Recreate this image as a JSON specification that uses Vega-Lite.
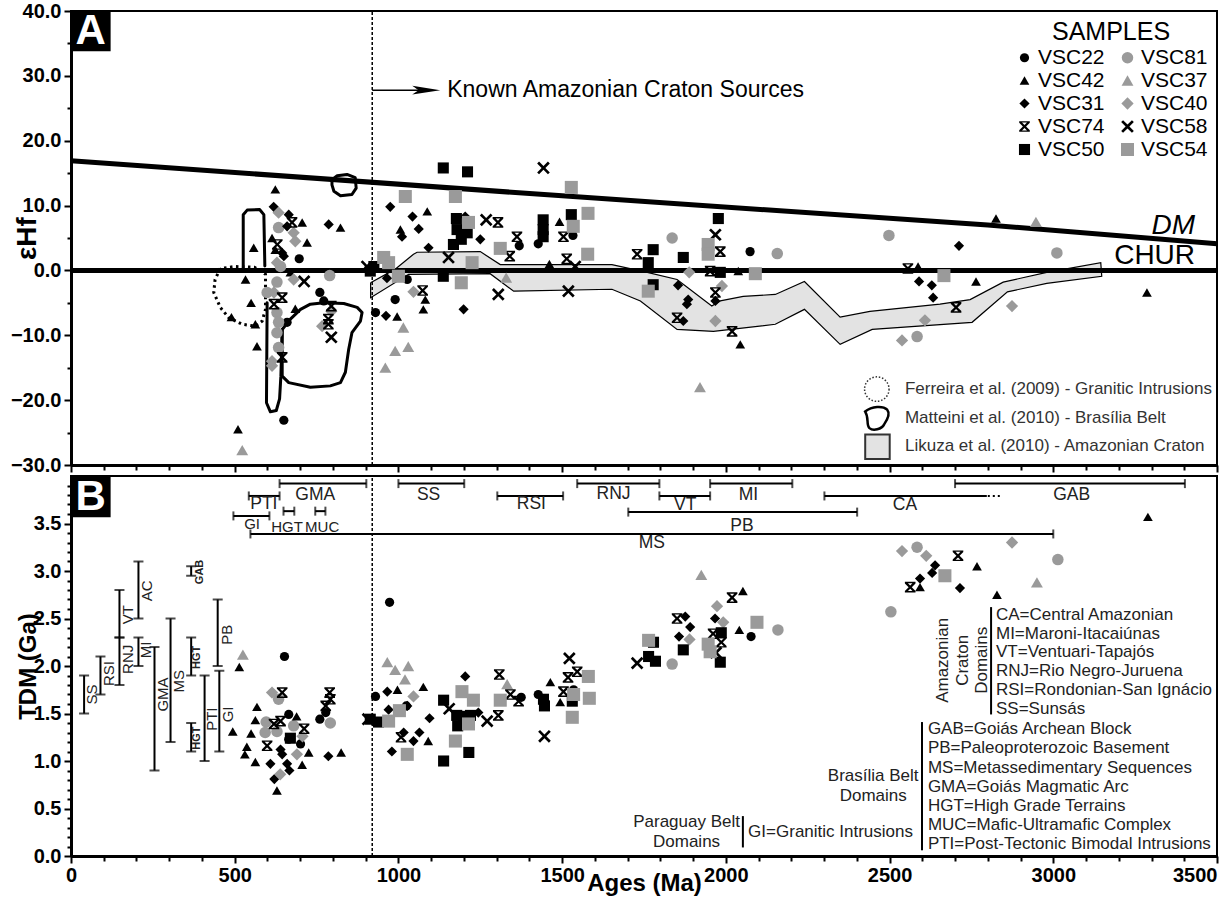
{
"$schema":"https://vega.github.io/schema/vega-lite/v6.json",
"padding":{"left":9,"top":0,"right":5,"bottom":0},
"bounds":"flush",
"config":{
 "font":"Liberation Sans",
 "view":{"stroke":"black","strokeWidth":2},
 "axis":{"domainColor":"black","domainWidth":3,"tickColor":"black","tickWidth":2,"labelColor":"black","labelFont":"Liberation Sans","labelFontWeight":"bold","labelFontSize":20,"titleFont":"Liberation Sans","titleFontWeight":"bold","titleColor":"black","grid":false,"labelOverlap":false,"labelFlush":false}
},
"spacing":11,
"resolve":{"legend":{"fill":"independent","shape":"independent","size":"independent"}},
"datasets":{
 "hf":[
  {"s":"VSC22","x":697,"y":1.8},{"s":"VSC22","x":760,"y":-3.4},{"s":"VSC22","x":772,"y":-4.7},{"s":"VSC22","x":650,"y":-23.1},{"s":"VSC22","x":660,"y":-8.0},{"s":"VSC22","x":990,"y":-4.5},{"s":"VSC22","x":930,"y":-6.5},{"s":"VSC22","x":1027,"y":-1.4},{"s":"VSC22","x":1369,"y":3.8},{"s":"VSC22","x":1427,"y":4.1},{"s":"VSC22","x":1533,"y":5.4},{"s":"VSC22","x":2074,"y":2.9},
  {"s":"VSC81","x":634,"y":6.6},{"s":"VSC81","x":640,"y":0.6},{"s":"VSC81","x":790,"y":-0.8},{"s":"VSC81","x":629,"y":-1.8},{"s":"VSC81","x":599,"y":-3.4},{"s":"VSC81","x":629,"y":-6.5},{"s":"VSC81","x":634,"y":-8.0},{"s":"VSC81","x":629,"y":-9.6},{"s":"VSC81","x":634,"y":-11.9},{"s":"VSC81","x":1836,"y":5.0},{"s":"VSC81","x":2157,"y":2.6},{"s":"VSC81","x":2498,"y":5.4},{"s":"VSC81","x":3011,"y":2.7},{"s":"VSC81","x":2584,"y":-10.2},
  {"s":"VSC42","x":624,"y":12.5},{"s":"VSC42","x":706,"y":7.4},{"s":"VSC42","x":721,"y":4.3},{"s":"VSC42","x":823,"y":6.6},{"s":"VSC42","x":558,"y":3.5},{"s":"VSC42","x":614,"y":5.0},{"s":"VSC42","x":624,"y":3.2},{"s":"VSC42","x":670,"y":-0.3},{"s":"VSC42","x":533,"y":-1.4},{"s":"VSC42","x":550,"y":-5.0},{"s":"VSC42","x":685,"y":-5.9},{"s":"VSC42","x":490,"y":-7.2},{"s":"VSC42","x":563,"y":-8.3},{"s":"VSC42","x":568,"y":-11.7},{"s":"VSC42","x":510,"y":-24.5},{"s":"VSC42","x":996,"y":-7.1},{"s":"VSC42","x":1006,"y":6.3},{"s":"VSC42","x":1088,"y":9.1},{"s":"VSC42","x":1082,"y":-4.5},{"s":"VSC42","x":1076,"y":-6.0},{"s":"VSC42","x":1492,"y":7.5},{"s":"VSC42","x":1461,"y":1.0},{"s":"VSC42","x":2038,"y":-0.1},{"s":"VSC42","x":2044,"y":-11.4},{"s":"VSC42","x":2825,"y":8.0},{"s":"VSC42","x":2587,"y":0.6},{"s":"VSC42","x":2764,"y":-1.7},{"s":"VSC42","x":3286,"y":-3.4},
  {"s":"VSC37","x":523,"y":-27.7},{"s":"VSC37","x":1015,"y":-8.8},{"s":"VSC37","x":990,"y":-12.4},{"s":"VSC37","x":1030,"y":-11.8},{"s":"VSC37","x":960,"y":-15.0},{"s":"VSC37","x":1329,"y":-1.1},{"s":"VSC37","x":1921,"y":-18.0},{"s":"VSC37","x":2947,"y":7.5},
  {"s":"VSC31","x":619,"y":9.8},{"s":"VSC31","x":665,"y":8.6},{"s":"VSC31","x":660,"y":6.8},{"s":"VSC31","x":645,"y":2.7},{"s":"VSC31","x":650,"y":2.2},{"s":"VSC31","x":787,"y":7.1},{"s":"VSC31","x":965,"y":-1.2},{"s":"VSC31","x":962,"y":-7.0},{"s":"VSC31","x":975,"y":9.8},{"s":"VSC31","x":1043,"y":8.3},{"s":"VSC31","x":1011,"y":5.2},{"s":"VSC31","x":1062,"y":6.4},{"s":"VSC31","x":1092,"y":3.5},{"s":"VSC31","x":1199,"y":-6.0},{"s":"VSC31","x":1250,"y":4.8},{"s":"VSC31","x":1204,"y":8.3},{"s":"VSC31","x":1854,"y":-2.3},{"s":"VSC31","x":1885,"y":-4.5},{"s":"VSC31","x":1881,"y":-5.2},{"s":"VSC31","x":1968,"y":-4.7},{"s":"VSC31","x":1870,"y":-7.8},{"s":"VSC31","x":2712,"y":3.8},{"s":"VSC31","x":2590,"y":-1.7},{"s":"VSC31","x":2629,"y":-2.3},{"s":"VSC31","x":2633,"y":-4.2},
  {"s":"VSC40","x":634,"y":8.9},{"s":"VSC40","x":680,"y":5.8},{"s":"VSC40","x":685,"y":4.5},{"s":"VSC40","x":629,"y":1.2},{"s":"VSC40","x":680,"y":-1.4},{"s":"VSC40","x":620,"y":-3.4},{"s":"VSC40","x":795,"y":-6.3},{"s":"VSC40","x":767,"y":-8.6},{"s":"VSC40","x":614,"y":-14.0},{"s":"VSC40","x":614,"y":-14.7},{"s":"VSC40","x":1046,"y":-3.3},{"s":"VSC40","x":1888,"y":-0.3},{"s":"VSC40","x":1988,"y":-2.4},{"s":"VSC40","x":1968,"y":-7.8},{"s":"VSC40","x":2874,"y":-5.5},{"s":"VSC40","x":2608,"y":-7.7},{"s":"VSC40","x":2538,"y":-10.8},
  {"s":"VSC74","x":675,"y":7.4},{"s":"VSC74","x":630,"y":4.0},{"s":"VSC74","x":645,"y":-4.2},{"s":"VSC74","x":620,"y":-5.2},{"s":"VSC74","x":795,"y":-5.5},{"s":"VSC74","x":786,"y":-7.5},{"s":"VSC74","x":786,"y":-8.3},{"s":"VSC74","x":645,"y":-13.4},{"s":"VSC74","x":1074,"y":-3.1},{"s":"VSC74","x":1304,"y":7.4},{"s":"VSC74","x":1362,"y":5.2},{"s":"VSC74","x":1340,"y":2.2},{"s":"VSC74","x":1504,"y":5.2},{"s":"VSC74","x":1514,"y":1.8},{"s":"VSC74","x":1729,"y":2.5},{"s":"VSC74","x":1983,"y":2.9},{"s":"VSC74","x":1952,"y":-0.1},{"s":"VSC74","x":1851,"y":-7.3},{"s":"VSC74","x":1968,"y":-3.4},{"s":"VSC74","x":2019,"y":-9.4},{"s":"VSC74","x":2556,"y":0.3},{"s":"VSC74","x":2703,"y":-5.7},
  {"s":"VSC58","x":712,"y":-1.7},{"s":"VSC58","x":795,"y":-10.3},{"s":"VSC58","x":904,"y":0.6},{"s":"VSC58","x":1443,"y":15.8},{"s":"VSC58","x":1268,"y":7.8},{"s":"VSC58","x":1153,"y":2.0},{"s":"VSC58","x":1305,"y":-3.7},{"s":"VSC58","x":1519,"y":-3.2},{"s":"VSC58","x":1540,"y":0.6},{"s":"VSC58","x":1968,"y":5.5},
  {"s":"VSC50","x":925,"y":0.6},{"s":"VSC50","x":914,"y":-0.1},{"s":"VSC50","x":1137,"y":15.8},{"s":"VSC50","x":1211,"y":15.2},{"s":"VSC50","x":1177,"y":8.0},{"s":"VSC50","x":1179,"y":6.3},{"s":"VSC50","x":1210,"y":5.8},{"s":"VSC50","x":1192,"y":4.8},{"s":"VSC50","x":1168,"y":4.0},{"s":"VSC50","x":1442,"y":7.8},{"s":"VSC50","x":1442,"y":6.3},{"s":"VSC50","x":1442,"y":5.2},{"s":"VSC50","x":1528,"y":8.6},{"s":"VSC50","x":1137,"y":-0.9},{"s":"VSC50","x":1778,"y":3.2},{"s":"VSC50","x":1763,"y":1.2},{"s":"VSC50","x":1870,"y":2.0},{"s":"VSC50","x":1977,"y":8.0},{"s":"VSC50","x":1778,"y":-2.2},{"s":"VSC50","x":1983,"y":-0.3},
  {"s":"VSC54","x":955,"y":2.0},{"s":"VSC54","x":970,"y":1.2},{"s":"VSC54","x":1000,"y":-0.9},{"s":"VSC54","x":1021,"y":11.4},{"s":"VSC54","x":1174,"y":11.4},{"s":"VSC54","x":1528,"y":12.8},{"s":"VSC54","x":1214,"y":7.4},{"s":"VSC54","x":1311,"y":3.4},{"s":"VSC54","x":1579,"y":8.8},{"s":"VSC54","x":1534,"y":6.8},{"s":"VSC54","x":1578,"y":2.5},{"s":"VSC54","x":1225,"y":1.2},{"s":"VSC54","x":1192,"y":-1.9},{"s":"VSC54","x":1763,"y":-3.2},{"s":"VSC54","x":1946,"y":4.0},{"s":"VSC54","x":1946,"y":2.5},{"s":"VSC54","x":2090,"y":-0.5},{"s":"VSC54","x":2666,"y":-0.8}
 ],
 "tdm":[
  {"s":"VSC22","x":652,"y":2.10},{"s":"VSC22","x":665,"y":1.49},{"s":"VSC22","x":701,"y":1.18},{"s":"VSC22","x":760,"y":1.44},{"s":"VSC22","x":778,"y":1.51},{"s":"VSC22","x":665,"y":1.23},{"s":"VSC22","x":973,"y":2.67},{"s":"VSC22","x":930,"y":1.68},{"s":"VSC22","x":1024,"y":1.58},{"s":"VSC22","x":1375,"y":1.67},{"s":"VSC22","x":1427,"y":1.70},{"s":"VSC22","x":1535,"y":1.75},{"s":"VSC22","x":2077,"y":2.31},
  {"s":"VSC81","x":596,"y":1.41},{"s":"VSC81","x":593,"y":1.30},{"s":"VSC81","x":634,"y":1.65},{"s":"VSC81","x":629,"y":1.31},{"s":"VSC81","x":680,"y":1.37},{"s":"VSC81","x":792,"y":1.40},{"s":"VSC81","x":1836,"y":2.02},{"s":"VSC81","x":2159,"y":2.38},{"s":"VSC81","x":2584,"y":3.25},{"s":"VSC81","x":3014,"y":3.12},{"s":"VSC81","x":2504,"y":2.57},
  {"s":"VSC42","x":514,"y":1.99},{"s":"VSC42","x":494,"y":1.31},{"s":"VSC42","x":568,"y":1.57},{"s":"VSC42","x":563,"y":1.43},{"s":"VSC42","x":550,"y":1.29},{"s":"VSC42","x":537,"y":1.15},{"s":"VSC42","x":531,"y":1.07},{"s":"VSC42","x":563,"y":0.99},{"s":"VSC42","x":629,"y":0.69},{"s":"VSC42","x":689,"y":1.47},{"s":"VSC42","x":726,"y":1.09},{"s":"VSC42","x":706,"y":0.96},{"s":"VSC42","x":825,"y":1.09},{"s":"VSC42","x":997,"y":1.75},{"s":"VSC42","x":1076,"y":1.78},{"s":"VSC42","x":1091,"y":1.21},{"s":"VSC42","x":1464,"y":1.83},{"s":"VSC42","x":1494,"y":1.62},{"s":"VSC42","x":2052,"y":2.79},{"s":"VSC42","x":2041,"y":2.38},{"s":"VSC42","x":3289,"y":3.57},{"s":"VSC42","x":2767,"y":3.05},{"s":"VSC42","x":2828,"y":2.75},{"s":"VSC42","x":2593,"y":2.83},
  {"s":"VSC37","x":525,"y":2.12},{"s":"VSC37","x":966,"y":2.04},{"s":"VSC37","x":990,"y":1.96},{"s":"VSC37","x":1030,"y":2.00},{"s":"VSC37","x":1020,"y":1.86},{"s":"VSC37","x":1332,"y":1.81},{"s":"VSC37","x":1925,"y":2.96},{"s":"VSC37","x":2950,"y":2.88},
  {"s":"VSC31","x":621,"y":0.81},{"s":"VSC31","x":609,"y":0.97},{"s":"VSC31","x":667,"y":0.90},{"s":"VSC31","x":645,"y":1.07},{"s":"VSC31","x":640,"y":1.12},{"s":"VSC31","x":660,"y":0.97},{"s":"VSC31","x":786,"y":1.05},{"s":"VSC31","x":966,"y":1.73},{"s":"VSC31","x":970,"y":1.54},{"s":"VSC31","x":1027,"y":1.58},{"s":"VSC31","x":980,"y":1.10},{"s":"VSC31","x":1016,"y":1.30},{"s":"VSC31","x":1046,"y":1.21},{"s":"VSC31","x":1095,"y":1.45},{"s":"VSC31","x":1064,"y":1.30},{"s":"VSC31","x":1204,"y":1.89},{"s":"VSC31","x":1244,"y":1.51},{"s":"VSC31","x":1876,"y":2.52},{"s":"VSC31","x":1891,"y":2.41},{"s":"VSC31","x":1857,"y":2.31},{"s":"VSC31","x":1967,"y":2.50},{"s":"VSC31","x":2639,"y":3.06},{"s":"VSC31","x":2630,"y":2.98},{"s":"VSC31","x":2593,"y":2.92},{"s":"VSC31","x":2715,"y":2.82},
  {"s":"VSC40","x":614,"y":1.72},{"s":"VSC40","x":639,"y":0.86},{"s":"VSC40","x":690,"y":1.07},{"s":"VSC40","x":707,"y":1.26},{"s":"VSC40","x":1046,"y":1.68},{"s":"VSC40","x":1973,"y":2.63},{"s":"VSC40","x":1889,"y":2.28},{"s":"VSC40","x":1992,"y":2.46},{"s":"VSC40","x":2874,"y":3.30},{"s":"VSC40","x":2538,"y":3.21},{"s":"VSC40","x":2612,"y":3.16},
  {"s":"VSC74","x":645,"y":1.72},{"s":"VSC74","x":620,"y":1.39},{"s":"VSC74","x":640,"y":1.42},{"s":"VSC74","x":712,"y":1.34},{"s":"VSC74","x":599,"y":1.16},{"s":"VSC74","x":790,"y":1.72},{"s":"VSC74","x":792,"y":1.65},{"s":"VSC74","x":778,"y":1.58},{"s":"VSC74","x":1008,"y":1.25},{"s":"VSC74","x":1308,"y":1.91},{"s":"VSC74","x":1305,"y":1.48},{"s":"VSC74","x":1342,"y":1.70},{"s":"VSC74","x":1367,"y":1.63},{"s":"VSC74","x":1518,"y":1.88},{"s":"VSC74","x":1546,"y":1.94},{"s":"VSC74","x":1504,"y":1.73},{"s":"VSC74","x":1851,"y":2.50},{"s":"VSC74","x":2019,"y":2.72},{"s":"VSC74","x":1986,"y":2.25},{"s":"VSC74","x":1961,"y":2.34},{"s":"VSC74","x":2709,"y":3.16},{"s":"VSC74","x":2563,"y":2.83},
  {"s":"VSC58","x":907,"y":1.44},{"s":"VSC58","x":1155,"y":1.55},{"s":"VSC58","x":1271,"y":1.42},{"s":"VSC58","x":1446,"y":1.26},{"s":"VSC58","x":1522,"y":2.08},{"s":"VSC58","x":1729,"y":2.03},{"s":"VSC58","x":1970,"y":2.14},
  {"s":"VSC50","x":914,"y":1.44},{"s":"VSC50","x":939,"y":1.41},{"s":"VSC50","x":670,"y":1.24},{"s":"VSC50","x":1138,"y":1.64},{"s":"VSC50","x":1178,"y":1.48},{"s":"VSC50","x":1199,"y":1.47},{"s":"VSC50","x":1220,"y":1.48},{"s":"VSC50","x":1181,"y":1.37},{"s":"VSC50","x":1138,"y":1.00},{"s":"VSC50","x":1215,"y":1.09},{"s":"VSC50","x":1443,"y":1.65},{"s":"VSC50","x":1446,"y":1.58},{"s":"VSC50","x":1531,"y":1.63},{"s":"VSC50","x":1779,"y":2.25},{"s":"VSC50","x":1764,"y":2.10},{"s":"VSC50","x":1785,"y":2.05},{"s":"VSC50","x":1870,"y":2.17},{"s":"VSC50","x":1986,"y":2.35},{"s":"VSC50","x":1983,"y":2.04},
  {"s":"VSC54","x":1003,"y":1.53},{"s":"VSC54","x":970,"y":1.42},{"s":"VSC54","x":1027,"y":1.07},{"s":"VSC54","x":1194,"y":1.73},{"s":"VSC54","x":1229,"y":1.64},{"s":"VSC54","x":1174,"y":1.21},{"s":"VSC54","x":1214,"y":1.39},{"s":"VSC54","x":1311,"y":1.64},{"s":"VSC54","x":1531,"y":1.46},{"s":"VSC54","x":1580,"y":1.89},{"s":"VSC54","x":1583,"y":1.66},{"s":"VSC54","x":1535,"y":1.70},{"s":"VSC54","x":1764,"y":2.27},{"s":"VSC54","x":2095,"y":2.46},{"s":"VSC54","x":1946,"y":2.23},{"s":"VSC54","x":1952,"y":2.15},{"s":"VSC54","x":2669,"y":2.95}
 ],
 "likuza":[
  {"i":0,"x":915,"y":-1.9},{"i":1,"x":990,"y":0.2},{"i":2,"x":1046,"y":2.5},{"i":3,"x":1057,"y":2.8},{"i":4,"x":1250,"y":2.9},{"i":5,"x":1311,"y":0.9},{"i":6,"x":1652,"y":0.9},{"i":7,"x":1760,"y":-0.3},{"i":8,"x":1851,"y":-1.4},{"i":9,"x":1957,"y":-5.5},{"i":10,"x":1983,"y":-4.7},{"i":11,"x":2053,"y":-4.0},{"i":12,"x":2151,"y":-3.7},{"i":13,"x":2240,"y":-1.7},{"i":14,"x":2349,"y":-7.2},{"i":15,"x":2440,"y":-6.3},{"i":16,"x":2654,"y":-5.2},{"i":17,"x":2746,"y":-4.5},{"i":18,"x":2847,"y":-1.8},{"i":19,"x":2980,"y":-0.3},{"i":20,"x":3145,"y":1.2},{"i":21,"x":3148,"y":-0.9},{"i":22,"x":2980,"y":-2.0},{"i":23,"x":2860,"y":-3.3},{"i":24,"x":2752,"y":-8.0},{"i":25,"x":2447,"y":-9.1},{"i":26,"x":2349,"y":-11.4},{"i":27,"x":2240,"y":-6.0},{"i":28,"x":2151,"y":-8.3},{"i":29,"x":1962,"y":-9.4},{"i":30,"x":1851,"y":-9.1},{"i":31,"x":1739,"y":-4.7},{"i":32,"x":1652,"y":-2.9},{"i":33,"x":1352,"y":-3.2},{"i":34,"x":1280,"y":-0.5},{"i":35,"x":1031,"y":-0.6},{"i":36,"x":915,"y":-4.2},{"i":37,"x":915,"y":-1.9}
 ],
 "matteini":[
  {"id":"m1","i":0,"x":526,"y":0.2},{"id":"m1","i":1,"x":526,"y":8.6},{"id":"m1","i":2,"x":538,"y":9.3},{"id":"m1","i":3,"x":576,"y":9.4},{"id":"m1","i":4,"x":589,"y":8.6},{"id":"m1","i":5,"x":592,"y":0.7},
  {"id":"m2","i":0,"x":645,"y":-9.1},{"id":"m2","i":1,"x":645,"y":-16.3},{"id":"m2","i":2,"x":665,"y":-17.3},{"id":"m2","i":3,"x":731,"y":-18.0},{"id":"m2","i":4,"x":792,"y":-17.8},{"id":"m2","i":5,"x":823,"y":-17.3},{"id":"m2","i":6,"x":838,"y":-15.7},{"id":"m2","i":7,"x":848,"y":-12.2},{"id":"m2","i":8,"x":858,"y":-9.6},{"id":"m2","i":9,"x":884,"y":-7.8},{"id":"m2","i":10,"x":889,"y":-6.5},{"id":"m2","i":11,"x":874,"y":-5.7},{"id":"m2","i":12,"x":833,"y":-5.1},{"id":"m2","i":13,"x":772,"y":-5.0},{"id":"m2","i":14,"x":731,"y":-5.2},{"id":"m2","i":15,"x":701,"y":-6.0},{"id":"m2","i":16,"x":670,"y":-7.5},{"id":"m2","i":17,"x":645,"y":-9.1},
  {"id":"m3","i":0,"x":599,"y":-5.0},{"id":"m3","i":1,"x":597,"y":-20.4},{"id":"m3","i":2,"x":609,"y":-21.8},{"id":"m3","i":3,"x":627,"y":-21.6},{"id":"m3","i":4,"x":637,"y":-19.8},{"id":"m3","i":5,"x":641,"y":-16.3},{"id":"m3","i":6,"x":645,"y":-9.1},
  {"id":"m4","i":0,"x":797,"y":13.2},{"id":"m4","i":1,"x":803,"y":12.2},{"id":"m4","i":2,"x":823,"y":11.5},{"id":"m4","i":3,"x":858,"y":11.7},{"id":"m4","i":4,"x":871,"y":12.7},{"id":"m4","i":5,"x":868,"y":14.3},{"id":"m4","i":6,"x":843,"y":14.8},{"id":"m4","i":7,"x":813,"y":14.6},{"id":"m4","i":8,"x":797,"y":14.0},{"id":"m4","i":9,"x":797,"y":13.2}
 ],
 "ferreira":[
  {"i":0,"x":456,"y":0.3},{"i":1,"x":440,"y":-1.4},{"i":2,"x":436,"y":-3.4},{"i":3,"x":456,"y":-5.7},{"i":4,"x":482,"y":-7.3},{"i":5,"x":523,"y":-8.3},{"i":6,"x":563,"y":-8.6},{"i":7,"x":584,"y":-7.8},{"i":8,"x":594,"y":-6.0},{"i":9,"x":594,"y":-2.9},{"i":10,"x":594,"y":-0.6},{"i":11,"x":560,"y":0.5},{"i":12,"x":500,"y":0.6},{"i":13,"x":456,"y":0.3}
 ],
 "dm":[{"x":0,"y":16.9},{"x":1500,"y":11.5},{"x":2800,"y":7.0},{"x":3500,"y":4.1}],
 "refleg":[
  {"x":2547,"y":-18.3,"t":"Ferreira et al. (2009) - Granitic Intrusions"},
  {"x":2547,"y":-22.8,"t":"Matteini et al. (2010) - Brasília Belt"},
  {"x":2547,"y":-27.1,"t":"Likuza et al. (2010) - Amazonian Craton"}
 ],
 "vbars":[
  {"x":40,"y":1.5,"y2":1.9},{"x":90,"y":1.7,"y2":2.1},{"x":148,"y":1.8,"y2":2.3},{"x":148,"y":2.3,"y2":2.8},{"x":206,"y":2.0,"y2":2.3},{"x":206,"y":2.5,"y2":3.1},{"x":255,"y":0.9,"y2":2.2},{"x":304,"y":1.2,"y2":2.5},{"x":367,"y":2.95,"y2":3.05},{"x":367,"y":1.9,"y2":2.3},{"x":367,"y":1.1,"y2":1.4},{"x":408,"y":1.0,"y2":1.9},{"x":453,"y":1.1,"y2":1.95},{"x":448,"y":2.0,"y2":2.7}
 ],
 "hbars":[
  {"x":637,"x2":902,"y":3.92},{"x":543,"x2":637,"y":3.79},{"x":649,"x2":682,"y":3.63},{"x":746,"x2":777,"y":3.63},{"x":496,"x2":606,"y":3.58},{"x":548,"x2":3000,"y":3.39},{"x":1000,"x2":1201,"y":3.92},{"x":1302,"x2":1503,"y":3.79},{"x":1546,"x2":1797,"y":3.92},{"x":1797,"x2":1952,"y":3.79},{"x":1952,"x2":2203,"y":3.92},{"x":1702,"x2":2401,"y":3.62},{"x":2700,"x2":3402,"y":3.92}
 ],
 "hlab":[
  {"x":746,"y":3.80,"t":"GMA"},{"x":589,"y":3.71,"t":"PTI"},{"x":1092,"y":3.80,"t":"SS"},{"x":1406,"y":3.71,"t":"RSI"},{"x":1657,"y":3.81,"t":"RNJ"},{"x":1876,"y":3.70,"t":"VT"},{"x":2069,"y":3.80,"t":"MI"},{"x":2049,"y":3.47,"t":"PB"},{"x":1774,"y":3.30,"t":"MS"},{"x":2547,"y":3.70,"t":"CA"},{"x":3056,"y":3.80,"t":"GAB"}
 ],
 "hlabs":[
  {"x":553,"y":3.50,"t":"GI"},{"x":660,"y":3.465,"t":"HGT"},{"x":767,"y":3.465,"t":"MUC"}
 ],
 "vlab":[
  {"x":63,"y":1.70,"t":"SS"},{"x":115,"y":1.92,"t":"RSI"},{"x":175,"y":2.07,"t":"RNJ"},{"x":175,"y":2.54,"t":"VT"},{"x":232,"y":2.79,"t":"AC"},{"x":230,"y":2.17,"t":"MI"},{"x":280,"y":1.70,"t":"GMA"},{"x":329,"y":1.84,"t":"MS"},{"x":431,"y":1.44,"t":"PTI"},{"x":480,"y":1.49,"t":"GI"},{"x":477,"y":2.33,"t":"PB"}
 ],
 "vlabb":[
  {"x":393,"y":2.99,"t":"GAB"},{"x":385,"y":2.09,"t":"HGT"},{"x":385,"y":1.24,"t":"HGT"}
 ],
 "brk":[
  {"id":"a","x":2810,"y":2.62},{"id":"a","x":2810,"y":1.49},{"id":"b","x":2599,"y":1.41},{"id":"b","x":2599,"y":0.06},{"id":"p","x":2052,"y":0.42},{"id":"p","x":2052,"y":0.09}
 ],
 "legl":[
  {"x":2825,"y":2.542,"t":"CA=Central Amazonian"},{"x":2825,"y":2.342,"t":"MI=Maroni-Itacaiúnas"},{"x":2825,"y":2.143,"t":"VT=Ventuari-Tapajós"},{"x":2825,"y":1.943,"t":"RNJ=Rio Negro-Juruena"},{"x":2825,"y":1.744,"t":"RSI=Rondonian-San Ignácio"},{"x":2825,"y":1.544,"t":"SS=Sunsás"},
  {"x":2617,"y":1.334,"t":"GAB=Goiás Archean Block"},{"x":2617,"y":1.134,"t":"PB=Paleoproterozoic Basement"},{"x":2617,"y":0.924,"t":"MS=Metassedimentary Sequences"},{"x":2617,"y":0.725,"t":"GMA=Goiás Magmatic Arc"},{"x":2617,"y":0.525,"t":"HGT=High Grade Terrains"},{"x":2617,"y":0.326,"t":"MUC=Mafic-Ultramafic Complex"},{"x":2617,"y":0.126,"t":"PTI=Post-Tectonic Bimodal Intrusions"},
  {"x":2068,"y":0.252,"t":"GI=Granitic Intrusions"}
 ],
 "legc":[
  {"x":2450,"y":0.84,"t":"Brasília Belt"},{"x":2450,"y":0.63,"t":"Domains"},{"x":1880,"y":0.357,"t":"Paraguay Belt"},{"x":1880,"y":0.147,"t":"Domains"}
 ],
 "legr":[
  {"x":2663,"y":2.06,"t":"Amazonian"},{"x":2724,"y":2.06,"t":"Craton"},{"x":2782,"y":2.06,"t":"Domains"}
 ]
},
"vconcat":[
 {
  "width":1146,"height":454,
  "encoding":{
   "x":{"field":"x","type":"quantitative","scale":{"domain":[0,3500],"nice":false,"zero":false},
    "axis":{"values":[0,100,200,300,400,500,600,700,800,900,1000,1100,1200,1300,1400,1500,1600,1700,1800,1900,2000,2100,2200,2300,2400,2500,2600,2700,2800,2900,3000,3100,3200,3300,3400,3500],"labels":false,"title":null,"tickSize":{"condition":{"test":"datum.value % 500 === 0","value":7},"value":5}}},
   "y":{"field":"y","type":"quantitative","scale":{"domain":[-30,40],"nice":false,"zero":false},
    "axis":{"values":[-30,-25,-20,-15,-10,-5,0,5,10,15,20,25,30,35,40],"labelExpr":"datum.value % 10 === 0 ? format(datum.value, '.1f') : ''","tickSize":{"condition":{"test":"datum.value % 10 === 0","value":7},"value":4},"labelPadding":3,"title":"εHf","titleFontSize":28,"titleX":-36,"titleBaseline":"alphabetic"}}
  },
  "layer":[
   {"data":{"name":"likuza"},"mark":{"type":"line","fill":"#e3e3e3","stroke":"black","strokeWidth":1.2},"encoding":{"order":{"field":"i","type":"quantitative"}}},
   {"data":{"name":"matteini"},"mark":{"type":"line","stroke":"black","strokeWidth":3,"strokeJoin":"round","strokeCap":"round"},"encoding":{"detail":{"field":"id","type":"nominal"},"order":{"field":"i","type":"quantitative"}}},
   {"data":{"name":"ferreira"},"mark":{"type":"line","stroke":"black","strokeWidth":3,"strokeDash":[2.5,3.5]},"encoding":{"order":{"field":"i","type":"quantitative"}}},
   {"data":{"name":"dm"},"mark":{"type":"line","stroke":"black","strokeWidth":5}},
   {"data":{"values":[{"x":0,"y":0},{"x":3500,"y":0}]},"mark":{"type":"line","stroke":"black","strokeWidth":5}},
   {"data":{"values":[{"x":920,"y":-30},{"x":920,"y":40}]},"mark":{"type":"line","stroke":"black","strokeWidth":1.5,"strokeDash":[3,2]}},
   {"data":{"values":[{"x":920,"y":27.8},{"x":1090,"y":27.8}]},"mark":{"type":"line","stroke":"black","strokeWidth":1.5}},
   {"data":{"values":[{"x":1085,"y":27.8}]},"mark":{"type":"point","shape":"M-1,-0.32L1,0L-1,0.32L-0.55,0Z","size":784,"filled":true,"fill":"black","opacity":1}},
   {"data":{"values":[{"x":1149,"y":27.8,"t":"Known Amazonian Craton Sources"}]},"mark":{"type":"text","align":"left","baseline":"middle","fontSize":23,"fill":"black"},"encoding":{"text":{"field":"t"}}},
   {"data":{"values":[{"x":3433,"y":6.9,"t":"DM"}]},"mark":{"type":"text","align":"right","baseline":"middle","fontSize":28,"fontStyle":"italic","fill":"black"},"encoding":{"text":{"field":"t"}}},
   {"data":{"values":[{"x":3433,"y":2.2,"t":"CHUR"}]},"mark":{"type":"text","align":"right","baseline":"middle","fontSize":28,"fill":"black"},"encoding":{"text":{"field":"t"}}},
   {"data":{"name":"hf"},"mark":{"type":"point","filled":true,"opacity":1,"strokeWidth":0},
    "encoding":{
     "fill":{"field":"s","type":"nominal","scale":{"domain":["VSC22","VSC42","VSC31","VSC74","VSC50","VSC81","VSC37","VSC40","VSC58","VSC54"],"range":["black","black","black","black","black","#9a9a9a","#9a9a9a","#9a9a9a","black","#9a9a9a"]},
      "legend":{"title":"SAMPLES","orient":"top-right","offset":9,"columns":2,"columnPadding":12,"rowPadding":1,"labelOffset":3,"titleFontSize":25,"titleFontWeight":"normal","titleAnchor":"middle","titleColor":"black","titleFont":"Liberation Sans","labelFont":"Liberation Sans","labelFontSize":21,"labelColor":"black","padding":0,"titlePadding":2}},
     "shape":{"field":"s","type":"nominal","scale":{"domain":["VSC22","VSC42","VSC31","VSC74","VSC50","VSC81","VSC37","VSC40","VSC58","VSC54"],"range":["circle","triangle-up","diamond","M-1,-1L1,-1L1,-0.74L-1,-0.74Z M-1,0.74L1,0.74L1,1L-1,1Z M-0.7,-1L0,-0.3L0.7,-1L1,-0.7L0.3,0L1,0.7L0.7,1L0,0.3L-0.7,1L-1,0.7L-0.3,0L-1,-0.7Z","square","circle","triangle-up","diamond","M-0.7,-1L0,-0.3L0.7,-1L1,-0.7L0.3,0L1,0.7L0.7,1L0,0.3L-0.7,1L-1,0.7L-0.3,0L-1,-0.7Z","square"]},
      "legend":{"title":"SAMPLES","orient":"top-right","offset":9,"columns":2,"columnPadding":12,"rowPadding":1,"labelOffset":3,"titleFontSize":25,"titleFontWeight":"normal","titleAnchor":"middle","titleColor":"black","titleFont":"Liberation Sans","labelFont":"Liberation Sans","labelFontSize":21,"labelColor":"black","padding":0,"titlePadding":2}},
     "size":{"field":"s","type":"nominal","scale":{"domain":["VSC22","VSC42","VSC31","VSC74","VSC50","VSC81","VSC37","VSC40","VSC58","VSC54"],"range":[85,170,140,120,125,85,170,140,115,125]},
      "legend":{"title":"SAMPLES","orient":"top-right","offset":9,"columns":2,"columnPadding":12,"rowPadding":1,"labelOffset":3,"titleFontSize":25,"titleFontWeight":"normal","titleAnchor":"middle","titleColor":"black","titleFont":"Liberation Sans","labelFont":"Liberation Sans","labelFontSize":21,"labelColor":"black","padding":0,"titlePadding":2}}
    }},
   {"data":{"values":[{"x":2461,"y":-18.3}]},"mark":{"type":"point","shape":"circle","size":600,"filled":false,"stroke":"#333","strokeWidth":1.5,"strokeDash":[1.5,1.8],"opacity":1}},
   {"data":{"values":[{"x":2461,"y":-22.8}]},"mark":{"type":"point","shape":"M-0.95,-0.55C-0.4,-1 0.5,-1.05 0.85,-0.7C1.1,-0.4 0.8,0.2 0.6,0.5C0.4,0.9 -0.3,1.05 -0.6,0.8C-0.9,0.5 -0.6,0 -0.95,-0.55Z","size":600,"filled":false,"stroke":"black","strokeWidth":2.5,"opacity":1}},
   {"data":{"values":[{"x":2463,"y":-27.2}]},"mark":{"type":"point","shape":"square","size":600,"filled":true,"fill":"#e3e3e3","stroke":"#333","strokeWidth":2,"opacity":1}},
   {"data":{"name":"refleg"},"mark":{"type":"text","align":"left","baseline":"middle","fontSize":17,"fill":"#333"},"encoding":{"text":{"field":"t"}}},
   {"data":{"values":[{"x":0,"x2":121,"y":40,"y2":33.8}]},"mark":{"type":"rect","fill":"black"},"encoding":{"x2":{"field":"x2"},"y2":{"field":"y2"}}},
   {"data":{"values":[{"x":60,"y":36.9,"t":"A"}]},"mark":{"type":"text","align":"center","baseline":"middle","fontSize":42,"fontWeight":"bold","fill":"white"},"encoding":{"text":{"field":"t"}}}
  ]
 },
 {
  "width":1146,"height":380,
  "encoding":{
   "x":{"field":"x","type":"quantitative","scale":{"domain":[0,3500],"nice":false,"zero":false},
    "axis":{"values":[0,100,200,300,400,500,600,700,800,900,1000,1100,1200,1300,1400,1500,1600,1700,1800,1900,2000,2100,2200,2300,2400,2500,2600,2700,2800,2900,3000,3100,3200,3300,3400,3500],"labelExpr":"datum.value % 500 === 0 ? format(datum.value, 'd') : ''","labelAlign":{"condition":{"test":"datum.value === 3500","value":"right"},"value":"center"},"tickSize":{"condition":{"test":"datum.value % 500 === 0","value":7},"value":5},"labelPadding":2,"title":"Ages (Ma)","titleFontSize":24,"titleY":34,"titleBaseline":"alphabetic"}},
   "y":{"field":"y","type":"quantitative","scale":{"domain":[0,4],"nice":false,"zero":false},
    "axis":{"values":[0,0.1,0.2,0.3,0.4,0.5,0.6,0.7,0.8,0.9,1,1.1,1.2,1.3,1.4,1.5,1.6,1.7,1.8,1.9,2,2.1,2.2,2.3,2.4,2.5,2.6,2.7,2.8,2.9,3,3.1,3.2,3.3,3.4,3.5,3.6,3.7,3.8,3.9],"labelExpr":"(abs(datum.value*2 - round(datum.value*2)) < 0.001 && datum.value < 3.6) ? format(datum.value, '.1f') : ''","tickSize":{"condition":{"test":"abs(datum.value*2 - round(datum.value*2)) < 0.001","value":7},"value":4},"labelPadding":3,"title":"TDM (Ga)","titleFontSize":24,"titleX":-36,"titleBaseline":"alphabetic"}}
  },
  "layer":[
   {"data":{"values":[{"x":920,"y":0},{"x":920,"y":4}]},"mark":{"type":"line","stroke":"black","strokeWidth":1.5,"strokeDash":[3,2]}},
   {"data":{"name":"vbars"},"mark":{"type":"errorbar","ticks":{"size":10},"thickness":2,"color":"black"},"encoding":{"y2":{"field":"y2"}}},
   {"data":{"name":"hbars"},"mark":{"type":"errorbar","ticks":{"size":9},"thickness":2,"color":"black"},"encoding":{"x2":{"field":"x2"}}},
   {"data":{"values":[{"x":2301,"y":3.79},{"x":2797,"y":3.79}]},"mark":{"type":"line","stroke":"black","strokeWidth":2}},
   {"data":{"values":[{"x":2800,"y":3.79},{"x":2845,"y":3.79}]},"mark":{"type":"line","stroke":"black","strokeWidth":2,"strokeDash":[2,3]}},
   {"data":{"values":[{"x":2301,"y":3.79}]},"mark":{"type":"tick","orient":"vertical","size":9,"thickness":2,"color":"black"}},
   {"data":{"name":"hlab"},"mark":{"type":"text","align":"center","baseline":"middle","fontSize":17.5,"fill":"#222"},"encoding":{"text":{"field":"t"}}},
   {"data":{"name":"hlabs"},"mark":{"type":"text","align":"center","baseline":"middle","fontSize":15,"fill":"#222"},"encoding":{"text":{"field":"t"}}},
   {"data":{"name":"vlab"},"mark":{"type":"text","align":"center","baseline":"middle","fontSize":15,"angle":270,"fill":"#222"},"encoding":{"text":{"field":"t"}}},
   {"data":{"name":"vlabb"},"mark":{"type":"text","align":"center","baseline":"middle","fontSize":11,"fontWeight":"bold","angle":270,"fill":"#222"},"encoding":{"text":{"field":"t"}}},
   {"data":{"name":"tdm"},"mark":{"type":"point","filled":true,"opacity":1,"strokeWidth":0},
    "encoding":{
     "fill":{"field":"s","type":"nominal","legend":null},
     "shape":{"field":"s","type":"nominal","legend":null},
     "size":{"field":"s","type":"nominal","legend":null}
    }},
   {"data":{"name":"brk"},"mark":{"type":"line","stroke":"black","strokeWidth":2},"encoding":{"detail":{"field":"id","type":"nominal"},"order":{"field":"y","type":"quantitative"}}},
   {"data":{"name":"legl"},"mark":{"type":"text","align":"left","baseline":"middle","fontSize":17,"fill":"#222"},"encoding":{"text":{"field":"t"}}},
   {"data":{"name":"legc"},"mark":{"type":"text","align":"center","baseline":"middle","fontSize":17,"fill":"#222"},"encoding":{"text":{"field":"t"}}},
   {"data":{"name":"legr"},"mark":{"type":"text","align":"center","baseline":"middle","fontSize":17,"angle":270,"fill":"#222"},"encoding":{"text":{"field":"t"}}},
   {"data":{"values":[{"x":0,"x2":121,"y":3.995,"y2":3.565}]},"mark":{"type":"rect","fill":"black"},"encoding":{"x2":{"field":"x2"},"y2":{"field":"y2"}}},
   {"data":{"values":[{"x":60,"y":3.775,"t":"B"}]},"mark":{"type":"text","align":"center","baseline":"middle","fontSize":42,"fontWeight":"bold","fill":"white"},"encoding":{"text":{"field":"t"}}}
  ]
 }
]
}
